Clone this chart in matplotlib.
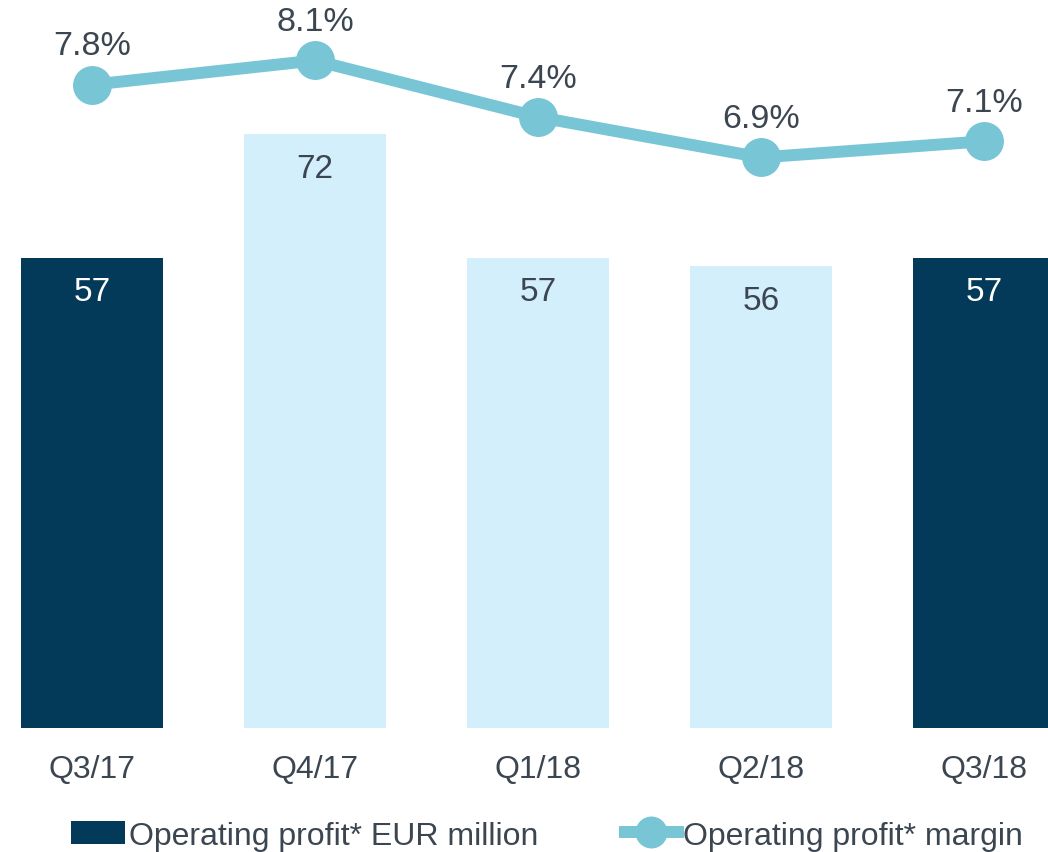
import matplotlib
matplotlib.use("Agg")
import matplotlib.pyplot as plt
from matplotlib.patches import Patch
from matplotlib.lines import Line2D

plt.rcParams['font.family'] = ['Liberation Sans', 'DejaVu Sans']

# data
quarters = ["Q3/17", "Q4/17", "Q1/18", "Q2/18", "Q3/18"]
profit = [57, 72, 57, 56, 57]
margin = [7.8, 8.1, 7.4, 6.9, 7.1]
bar_colors = ["#033a5a", "#d4effc", "#d4effc", "#d4effc", "#033a5a"]
label_colors = ["white", "#3c4651", "#3c4651", "#3c4651", "white"]

text_col = "#3c4651"
line_col = "#78c5d5"

fig = plt.figure(figsize=(10.48, 8.53), dpi=100)
ax = fig.add_axes([0, 0.1454, 1, 0.8546])
x = list(range(len(quarters)))

ax.bar(x, profit, width=0.641, color=bar_colors, zorder=1)
for i, v in enumerate(profit):
    ax.annotate(str(v), (i, v), xytext=(0, -24.5), textcoords="offset points",
                ha="center", va="center", fontsize=24, color=label_colors[i])

ax.set_xlim(-0.4126, 4.287)
ax.set_ylim(0, 88.4)
ax.set_xticks(x)
ax.set_xticklabels(quarters, fontsize=23, color=text_col)
ax.tick_params(axis="x", length=0, pad=19)
ax.set_yticks([])
for s in ax.spines.values():
    s.set_visible(False)

ax2 = ax.twinx()
ax2.plot(x, margin, color=line_col, lw=8.6, marker="o", ms=27, zorder=3)
for i, v in enumerate(margin):
    ax2.annotate(f"{v:.1f}%", (i, v), xytext=(0, 28), textcoords="offset points",
                 ha="center", va="center", fontsize=24.5, color=text_col)
ax2.set_ylim(-0.161, 8.861)
ax2.set_yticks([])
for s in ax2.spines.values():
    s.set_visible(False)

handles = [Patch(facecolor="#033a5a"),
           Line2D([], [], color=line_col, lw=8.6, marker="o", ms=22)]
fig.legend(handles, ["Operating profit* EUR million", "Operating profit* margin"],
           loc="lower center", bbox_to_anchor=(0.522, -0.032), ncol=2, frameon=False,
           fontsize=23, labelcolor=text_col, handlelength=1.66, handletextpad=0.15,
           columnspacing=2.7, handleheight=0.7)

fig.savefig("out.png", dpi=100)
